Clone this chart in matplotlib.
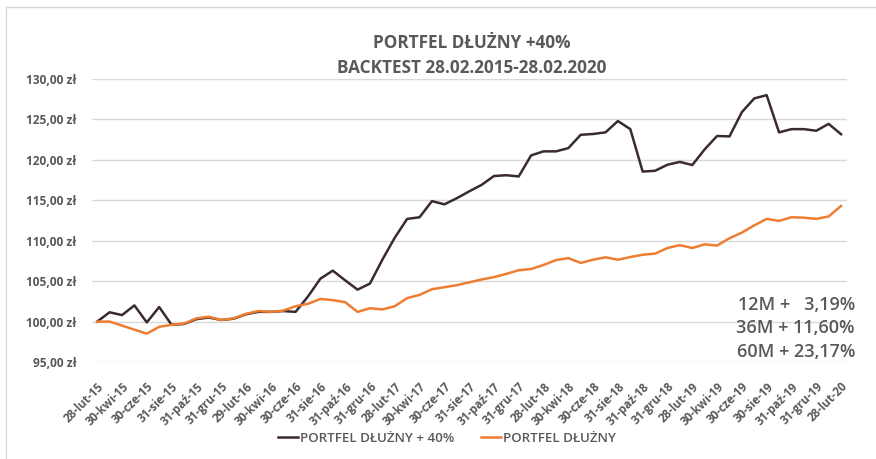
import numpy as np
import matplotlib
matplotlib.use('Agg')
import matplotlib.pyplot as plt
from matplotlib.lines import Line2D

plt.rcParams['font.family'] = ['Open Sans', 'DejaVu Sans']

tick_labels = ['28-lut-15', '30-kwi-15', '30-cze-15', '31-sie-15', '31-paź-15', '31-gru-15',
               '29-lut-16', '30-kwi-16', '30-cze-16', '31-sie-16', '31-paź-16', '31-gru-16',
               '28-lut-17', '30-kwi-17', '30-cze-17', '31-sie-17', '31-paź-17', '31-gru-17',
               '28-lut-18', '30-kwi-18', '30-cze-18', '31-sie-18', '31-paź-18', '31-gru-18',
               '28-lut-19', '30-kwi-19', '30-cze-19', '30-sie-19', '31-paź-19', '31-gru-19',
               '28-lut-20']

portfel_40 = [100.0, 101.15, 100.8, 102.0, 99.9, 101.8, 99.6, 99.7, 100.3, 100.5,
              100.2, 100.35, 100.9, 101.2, 101.2, 101.3, 101.2, 103.1, 105.3, 106.3,
              105.1, 103.95, 104.7, 107.65, 110.37, 112.7, 112.9, 114.9, 114.5, 115.25,
              116.1, 116.9, 118.0, 118.1, 117.95, 120.55, 121.05, 121.05, 121.45, 123.1,
              123.2, 123.4, 124.8, 123.8, 118.55, 118.65, 119.4, 119.75, 119.36, 121.3,
              122.95, 122.9, 125.9, 127.6, 128.0, 123.4, 123.8, 123.8, 123.6, 124.45,
              123.17]

portfel = [100.0, 100.0, 99.5, 99.0, 98.5, 99.35, 99.6, 99.75, 100.4, 100.6,
           100.2, 100.4, 100.95, 101.3, 101.2, 101.35, 101.9, 102.2, 102.8, 102.65,
           102.4, 101.2, 101.65, 101.5, 101.9, 102.9, 103.3, 104.0, 104.25, 104.5,
           104.85, 105.2, 105.5, 105.9, 106.35, 106.5, 107.0, 107.6, 107.85, 107.25,
           107.65, 107.95, 107.65, 107.98, 108.27, 108.4, 109.1, 109.45, 109.1, 109.55,
           109.4, 110.3, 111.0, 111.9, 112.7, 112.45, 112.9, 112.85, 112.7, 113.0,
           114.3]

stats = ['12M +   3,19%', '36M + 11,60%', '60M + 23,17%']

grey = '#595959'
x = np.arange(len(portfel))

fig = plt.figure(figsize=(8.76, 4.59), dpi=100)
ax = fig.add_axes([92 / 876, 1 - 362 / 459, 755 / 876, 283 / 459])

ax.plot(x, portfel_40, color='#3b2b2b', lw=1.8, label='PORTFEL DŁUŻNY + 40%', zorder=3)
ax.plot(x, portfel, color='#ed7d31', lw=1.8, label='PORTFEL DŁUŻNY', zorder=3)

ax.set_ylim(95, 130)
ax.set_xlim(-0.42, 60.48)
ax.set_yticks(np.arange(95, 131, 5))
ax.set_yticklabels([f'{v},00 zł' for v in range(95, 131, 5)], fontsize=8.6,
                   fontweight='bold', color=grey)
ax.set_xticks(x[::2])
ax.set_xticklabels(tick_labels, rotation=45, ha='right', rotation_mode='anchor',
                   fontsize=8.4, fontweight='bold', color=grey)
ax.tick_params(axis='both', length=0)
ax.tick_params(axis='y', pad=11)
ax.tick_params(axis='x', pad=13)
ax.grid(axis='y', color='#d9d9d9', lw=1)
ax.set_axisbelow(True)
for s in ax.spines.values():
    s.set_visible(False)

fig.text(0.538, 1 - 43 / 459, 'PORTFEL DŁUŻNY +40%', ha='center', va='center',
         fontsize=12.3, fontweight='bold', color=grey)
fig.text(0.538, 1 - 68 / 459, 'BACKTEST 28.02.2015-28.02.2020', ha='center', va='center',
         fontsize=12.3, fontweight='bold', color=grey)

for s, yy in zip(stats, [305, 328, 352]):
    fig.text(855 / 876, 1 - yy / 459, s, ha='right', va='center', fontsize=13,
             fontweight='semibold', color=grey)

fig.legend(loc='center', bbox_to_anchor=(0.51, 1 - 438 / 459), ncol=2, frameon=False,
           prop={'size': 9.6, 'weight': 'semibold'}, labelcolor=grey,
           handlelength=1.5, columnspacing=2.0, handletextpad=0.15)

fig.add_artist(Line2D([6 / 876, 1], [1 - 7 / 459] * 2, color='#d9d9d9', lw=1))
fig.add_artist(Line2D([6 / 876] * 2, [0, 1 - 7 / 459], color='#d9d9d9', lw=1))

fig.savefig('out.png', dpi=100)
